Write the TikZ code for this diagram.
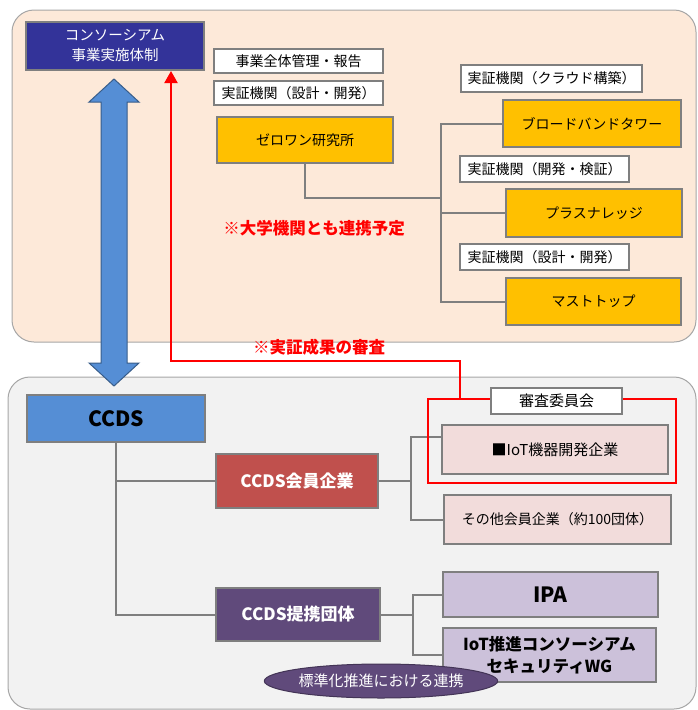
\documentclass[tikz,border=0pt]{standalone}
\usepackage{fontspec}
\setmainfont{Noto Sans CJK JP}
\usetikzlibrary{arrows.meta,calc,shapes.geometric}

\definecolor{peach}{HTML}{FDE9D9}
\definecolor{paleg}{HTML}{F2F2F2}
\definecolor{panelgray}{HTML}{A6A6A6}
\definecolor{boxgray}{HTML}{7F7F7F}
\definecolor{consblue}{HTML}{333399}
\definecolor{ccdsblue}{HTML}{558ED5}
\definecolor{arrowedge}{HTML}{385D8A}
\definecolor{orggold}{HTML}{FFC000}
\definecolor{memred}{HTML}{C0504D}
\definecolor{allypurple}{HTML}{604A7B}
\definecolor{memtint}{HTML}{F2DCDB}
\definecolor{allytint}{HTML}{CCC1DA}
\definecolor{notered}{HTML}{FF0000}

\tikzset{
    panel/.style={draw=panelgray, line width=1pt, rounded corners=22pt},
    boxsize/.style 2 args={minimum width=#1pt, minimum height=#2pt},
    box/.style={draw=boxgray, line width=2pt, inner sep=0pt, align=center, font=\fontsize{14}{17}\selectfont},
    tagbox/.style={box, fill=white},
    orgbox/.style={box, fill=orggold},
    heavy/.style={font=\bfseries\fontsize{17}{21}\selectfont},
    tree/.style={draw=boxgray, line width=2pt},
    note/.style={text=notered, font=\bfseries\fontsize{16.5}{20}\selectfont},
    redpath/.style={draw=notered, line width=2pt},
    bigarrow/.style={fill=ccdsblue, draw=arrowedge, line width=1pt, line join=miter},
}

\begin{document}
\begin{tikzpicture}[x=1pt, y=-1pt]
    \useasboundingbox (0,0) rectangle (697,710);
    \draw[panel, fill=peach] (12,10) rectangle (696,342);
    \draw[panel, fill=paleg] (8,377) rectangle (696,709);

    \node[box, boxsize={178}{48}, fill=consblue, text=white, font=\fontsize{14.5}{20}\selectfont] (cons) at (115,46) {コンソーシアム\\事業実施体制};
    \node[tagbox, boxsize={169}{24}] (mgmt) at (298.5,61) {事業全体管理・報告};
    \node[tagbox, boxsize={169}{24}] (zerotag) at (298.5,93) {実証機関（設計・開発）};
    \node[orgbox, boxsize={176}{46}] (zero) at (305,140) {ゼロワン研究所};

    \node[tagbox, boxsize={181}{27}] (cloudtag) at (551.5,78) {実証機関（クラウド構築）};
    \node[orgbox, boxsize={178}{47}] (bbt) at (592,123.5) {ブロードバンドタワー};
    \node[tagbox, boxsize={169}{26}] (devtag) at (544.5,169) {実証機関（開発・検証）};
    \node[orgbox, boxsize={176}{48}] (plus) at (594,213) {プラスナレッジ};
    \node[tagbox, boxsize={169}{26}] (designtag) at (544.5,257) {実証機関（設計・開発）};
    \node[orgbox, boxsize={175}{47}] (mast) at (593.5,301.5) {マストトップ};

    \draw[tree] (bbt.west) -- ++(-61,0) coordinate (ztrunk) |- (mast.west);
    \draw[tree] (plus.west) -- (plus.west -| ztrunk);
    \draw[tree] (zero.south) -- ++(0,34) coordinate (zbend) -- (zbend -| ztrunk);

    \node[note] (univ) at (314,228) {※大学機関とも連携予定};

    \node[box, boxsize={178}{47}, fill=ccdsblue, font=\bfseries\fontsize{21}{24}\selectfont] (ccds) at (116,418.5) {CCDS};
    \node[box, heavy, boxsize={162}{54}, fill=memred, text=white] (mem) at (297,481) {CCDS会員企業};
    \node[box, heavy, boxsize={164}{53}, fill=allypurple, text=white] (ally) at (298,614.5) {CCDS提携団体};

    \node[box, boxsize={226}{49}, fill=memtint, font=\fontsize{15}{18}\selectfont] (iotdev) at (555,449.5) {■IoT機器開発企業};
    \node[box, boxsize={227}{49}, fill=memtint] (others) at (557.5,519.5) {その他会員企業（約100団体）};
    \node[box, boxsize={215}{45}, fill=allytint, font=\bfseries\fontsize{21}{24}\selectfont] (ipa) at (550.5,594.5) {IPA};
    \node[box, boxsize={213}{54}, fill=allytint, font=\bfseries\fontsize{16.5}{22}\selectfont] (wg) at (549.5,655) {IoT推進コンソーシアム\\セキュリティWG};

    \draw[tree] (ccds.south) |- (mem.west);
    \draw[tree] (ccds.south) |- (ally.west);
    \draw[tree] (mem.east) -- ++(32,0) coordinate (mhub);
    \draw[tree] ($(iotdev.west)+(0,-13)$) -| (mhub) |- (others.west);
    \draw[tree] (ally.east) -- ++(32,0) coordinate (ahub);
    \draw[tree] (ipa.west) -| (ahub) |- (wg.west);

    \node[draw=allypurple!70!black, line width=1pt, fill=allypurple, text=white, ellipse, inner sep=0pt, boxsize={196}{34}, font=\fontsize{15}{18}\selectfont] (linkage) at (381,681) {標準化推進における連携};

    \node[draw=notered, line width=2pt, boxsize={248}{84}, inner sep=0pt] (revframe) at (552,441) {};
    \node[tagbox, boxsize={131}{26}, font=\fontsize{15}{18}\selectfont] (revtag) at (556.5,401) {審査委員会};
    \coordinate (revtap) at ($(revframe.north west)+(33,0)$);
    \coordinate (consin) at ($(cons.south east)+(-34,0)$);
    \draw[redpath, -{Triangle[length=12pt, width=13pt]}] (revtap) -- ++(0,-37) -| (consin);
    \node[note] (review) at (319,347) {※実証成果の審査};

    \path (cons.south) ++(-1,8) coordinate (uptip);
    \path (ccds.north) ++(-2,-8) coordinate (dntip);
    \draw[bigarrow] (uptip) -- ++(25,23) -- ++(-12,0) -- ($(dntip)+(13,-23)$) -- ++(12,0) -- (dntip)
        -- ++(-25,-23) -- ++(12,0) -- ($(uptip)+(-13,23)$) -- ++(-12,0) -- cycle;
\end{tikzpicture}
\end{document}
